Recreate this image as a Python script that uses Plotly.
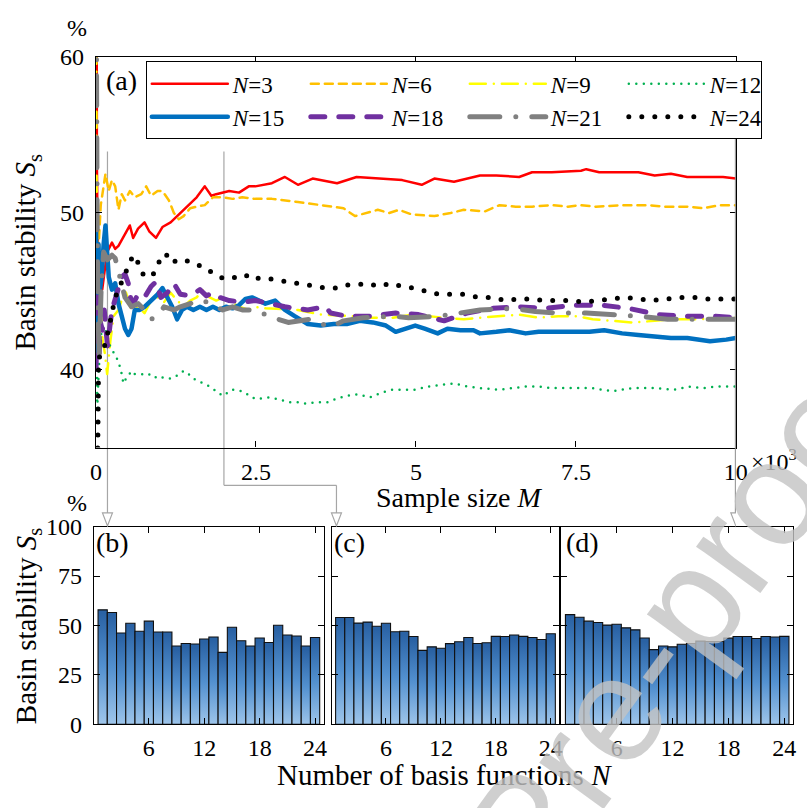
import plotly.graph_objects as go

W, H = 807, 808

# ---- running estimate of basin stability S_s (%) versus sample size M ----
m_n3 = [1, 3, 6, 10, 15, 25, 47, 98, 174, 250, 301, 352, 454, 530, 581, 658, 759, 836,
        938, 1039, 1167, 1268, 1370, 1472, 1574, 1701, 1803, 1879, 1981, 2083, 2236, 2388,
        2490, 2750, 2953, 3157, 3386, 3768, 4073, 4531, 4786, 5091, 5289, 5595, 6002, 6257,
        6613, 6816, 7122, 7580, 7662, 7865, 8476, 8731, 8985, 9240, 9596, 9799, 10000]
s_n3 = [100, 66.7, 61.0, 57.0, 53.0, 49.0, 45.5, 45.1, 47.5, 48.1, 47.7, 47.9, 48.6, 49.2,
        48.4, 49.0, 49.4, 48.8, 48.4, 49.1, 49.4, 49.8, 50.2, 50.6, 51.0, 51.7, 51.1, 51.2,
        51.3, 51.4, 51.3, 51.7, 51.7, 51.9, 52.3, 51.8, 52.2, 51.9, 52.3, 52.2, 52.1, 51.8,
        52.2, 52.0, 52.4, 52.4, 52.3, 52.6, 52.6, 52.7, 52.8, 52.6, 52.6, 52.4, 52.5, 52.3,
        52.3, 52.3, 52.2]

m_n6 = [2, 5, 10, 20, 35, 50, 75, 98, 149, 200, 250, 301, 352, 403, 454, 530, 607, 709,
        785, 861, 963, 1039, 1141, 1218, 1294, 1370, 1472, 1574, 1701, 1828, 1981, 2134,
        2286, 2490, 2750, 3157, 3513, 3869, 4047, 4226, 4404, 4582, 4735, 4938, 5289, 5544,
        5748, 6078, 6307, 6562, 6816, 7122, 7376, 7560, 7814, 8222, 8629, 8883, 9240, 9494,
        9749, 10000]
s_n6 = [50.0, 44.0, 48.0, 42.0, 46.0, 48.5, 50.5, 51.2, 52.5, 51.4, 52.1, 51.7, 50.2, 51.2,
        50.8, 51.4, 51.0, 51.2, 51.7, 51.1, 51.4, 51.4, 50.8, 50.0, 49.6, 49.8, 50.3, 50.4,
        50.5, 51.0, 51.0, 50.9, 51.0, 50.9, 50.9, 50.7, 50.5, 50.3, 49.8, 50.0, 50.2, 50.0,
        50.2, 49.9, 49.8, 50.0, 50.2, 50.1, 50.5, 50.4, 50.4, 50.5, 50.4, 50.5, 50.4, 50.5,
        50.5, 50.4, 50.4, 50.3, 50.5, 50.5]

m_n9 = [2, 5, 10, 20, 35, 60, 100, 140, 175, 225, 276, 352, 454, 556, 658, 759, 861, 963,
        1065, 1167, 1268, 1370, 1472, 1574, 1676, 1777, 1879, 1981, 2083, 2236, 2388, 2490,
        2648, 3157, 3513, 4022, 4226, 4633, 4938, 5442, 5748, 6002, 6358, 6613, 6918, 7224,
        7529, 7763, 8069, 8374, 8731, 8985, 9392, 9749, 10000]
s_n9 = [66.7, 55.0, 52.0, 48.0, 44.0, 46.0, 42.0, 41.0, 39.7, 41.8, 43.4, 43.8, 45.1, 43.8,
        44.0, 43.6, 44.4, 44.6, 44.3, 44.9, 44.4, 44.0, 44.4, 44.6, 45.1, 44.6, 44.4, 44.6,
        44.4, 44.0, 43.8, 44.0, 43.9, 43.8, 43.5, 43.4, 43.3, 43.3, 43.5, 43.3, 43.2, 43.3,
        43.4, 43.5, 43.3, 43.4, 43.4, 43.2, 43.1, 43.0, 43.1, 43.2, 43.2, 43.3, 43.3]

m_n12 = [2, 6, 12, 20, 40, 70, 110, 160, 220, 280, 352, 403, 429, 454, 556, 607, 709, 785,
         861, 963, 1065, 1167, 1268, 1370, 1447, 1523, 1625, 1777, 1981, 2134, 2286, 2490,
         2699, 2851, 3004, 3157, 3284, 3437, 3615, 3742, 3910, 4098, 4277, 4455, 4633, 4836,
         4984, 5188, 5391, 5595, 5798, 6002, 6307, 6511, 6715, 6918, 7122, 7376, 7763, 8069,
         8374, 8731, 9036, 9265, 9494, 9698, 10000]
s_n12 = [50.0, 44.0, 39.0, 37.5, 39.5, 42.0, 42.8, 42.4, 41.5, 41.0, 40.5, 39.7, 39.1, 39.3,
         39.9, 39.7, 39.7, 39.6, 39.7, 39.4, 39.5, 39.4, 39.6, 39.9, 39.7, 39.4, 39.2, 38.9,
         38.3, 38.7, 38.6, 38.1, 38.2, 38.1, 37.9, 37.9, 37.8, 37.9, 37.9, 38.1, 38.3, 38.4,
         38.2, 38.5, 38.7, 38.7, 38.7, 38.9, 39.0, 39.1, 38.9, 38.8, 38.7, 38.8, 38.9, 38.9,
         38.8, 38.8, 38.8, 38.6, 38.8, 38.8, 38.7, 38.9, 38.8, 38.9, 38.9]

m_n15 = [2, 8, 15, 25, 40, 60, 90, 120, 149, 200, 250, 301, 352, 403, 454, 505, 556, 607,
         683, 759, 861, 963, 1039, 1116, 1192, 1268, 1345, 1421, 1523, 1625, 1727, 1828,
         1930, 2032, 2134, 2236, 2337, 2439, 2648, 2800, 2953, 3106, 3309, 3513, 3717, 3920,
         4124, 4327, 4531, 4684, 4836, 4989, 5137, 5340, 5493, 5697, 5900, 6002, 6257, 6460,
         6715, 6918, 7224, 7458, 7713, 7942, 8222, 8476, 8731, 8985, 9240, 9596, 9850, 10000]
s_n15 = [50.0, 41.0, 47.0, 43.0, 48.0, 45.0, 46.0, 48.0, 49.2, 45.9, 45.1, 45.5, 44.2, 43.4,
         42.6, 42.2, 42.6, 43.8, 43.8, 44.0, 44.4, 44.8, 45.2, 44.6, 44.0, 43.2, 43.8, 44.0,
         43.8, 44.0, 43.8, 44.0, 43.8, 44.0, 43.9, 44.1, 44.5, 44.6, 44.2, 44.4, 43.8, 43.4,
         42.9, 42.8, 42.9, 42.9, 43.1, 43.0, 42.8, 42.4, 42.6, 42.8, 42.6, 42.3, 42.6, 42.5,
         42.5, 42.3, 42.4, 42.5, 42.3, 42.4, 42.4, 42.4, 42.4, 42.5, 42.3, 42.2, 42.1, 42.0,
         42.0, 41.8, 41.9, 42.0]

m_n18 = [2, 6, 12, 20, 35, 50, 70, 100, 130, 180, 250, 330, 403, 454, 505, 556, 607, 658,
         759, 861, 938, 1014, 1116, 1218, 1319, 1472, 1625, 1727, 1828, 1930, 2083, 2286,
         2490, 2953, 3309, 3589, 3666, 3920, 4277, 4684, 5040, 5442, 5798, 6206, 6613, 7020,
         7478, 7916, 8323, 8781, 9189, 9647, 10000]
s_n18 = [40.0, 44.0, 41.0, 45.0, 42.0, 41.0, 43.0, 42.5, 43.8, 41.5, 43.8, 44.8, 45.9, 46.1,
         45.5, 44.2, 44.4, 44.8, 44.6, 45.3, 45.6, 44.6, 44.9, 45.5, 44.8, 44.7, 45.1, 44.7,
         44.9, 44.6, 44.4, 44.3, 44.4, 44.0, 43.8, 44.0, 43.6, 43.4, 43.4, 43.6, 43.5, 43.1,
         43.6, 43.9, 44.0, 43.9, 44.1, 44.1, 43.9, 43.5, 43.4, 43.4, 43.3]

m_n21 = [2, 5, 10, 18, 30, 50, 80, 120, 180, 250, 301, 352, 454, 556, 658, 759, 861, 963,
         1065, 1218, 1319, 1472, 1574, 1676, 1777, 1879, 1981, 2134, 2286, 2490, 2699, 3004,
         3335, 3666, 3869, 4175, 4633, 4887, 5366, 6002, 6511, 6867, 7224, 7662, 8120, 8476,
         8934, 9290, 9749, 10000]
s_n21 = [66.7, 57.0, 54.0, 50.0, 44.0, 41.0, 45.0, 47.5, 47.0, 47.3, 47.1, 46.3, 44.6, 44.0,
         44.2, 43.8, 43.2, 43.4, 44.0, 43.8, 44.0, 44.2, 44.4, 44.4, 44.2, 44.0, 43.8, 44.0,
         43.8, 43.8, 43.4, 43.0, 43.2, 42.7, 43.1, 43.3, 43.4, 43.3, 43.4, 43.8, 43.9, 43.7,
         43.6, 43.6, 43.5, 43.4, 43.2, 43.2, 43.2, 43.2]

m_n24 = [5, 15, 25, 32, 40, 60, 123, 200, 250, 301, 454, 530, 581, 632, 709, 785, 887, 963,
         1065, 1141, 1192, 1268, 1396, 1523, 1676, 1879, 2007, 2134, 2261, 2414, 2546, 2699,
         2851, 2994, 3131, 3294, 3437, 3589, 3742, 3910, 4063, 4241, 4429, 4607, 4786, 4974,
         5152, 5350, 5549, 5763, 5982, 6195, 6404, 6603, 6801, 7005, 7208, 7417, 7636, 7845,
         8054, 8257, 8476, 8690, 8914, 9128, 9357, 9575, 9789, 10000]
s_n24 = [25.0, 33.0, 36.0, 38.0, 40.0, 41.0, 41.3, 42.6, 43.8, 44.6, 46.1, 46.9, 47.3, 47.1,
         46.2, 45.9, 46.0, 46.7, 47.4, 47.2, 46.8, 47.0, 47.0, 46.7, 46.6, 46.0, 45.8, 45.9,
         45.8, 46.1, 45.8, 45.8, 45.7, 45.6, 45.5, 45.4, 45.3, 45.2, 45.2, 45.4, 45.4, 45.5,
         45.3, 45.5, 45.3, 45.2, 45.0, 44.8, 44.8, 44.8, 44.6, 44.6, 44.4, 44.5, 44.5, 44.4,
         44.4, 44.4, 44.3, 44.4, 44.5, 44.6, 44.5, 44.4, 44.5, 44.6, 44.6, 44.5, 44.5, 44.5]

# ---- S_s (%) for every number of basis functions N at three sample sizes ----
n_basis = list(range(1, 25))
m_marks = [180, 2000, 10000]
ss_m180 = [57.9, 56.6, 46.2, 51.1, 47.1, 52.2, 46.7, 46.7, 39.6, 40.9, 40.6, 43.2,
           44.2, 36.4, 49.1, 42.3, 39.6, 43.7, 41.4, 50.1, 45.2, 44.7, 39.6, 43.9]
ss_m2000 = [54.0, 54.0, 51.2, 51.7, 49.6, 51.1, 46.8, 47.1, 44.4, 37.4, 39.2, 38.5,
            40.8, 41.8, 43.9, 40.9, 41.3, 44.5, 44.4, 45.2, 44.5, 43.9, 42.9, 45.8]
ss_m10000 = [55.5, 54.2, 52.2, 51.5, 50.2, 50.6, 48.8, 47.8, 43.7, 37.8, 39.6, 39.2,
             40.5, 40.9, 42.1, 41.9, 41.9, 43.6, 44.4, 44.4, 43.4, 44.4, 44.2, 44.5]

SERIF = "Liberation Serif"


def px(x):
    return x / W


def py(y):
    return 1 - y / H


series = [
    ("<i>N</i>=3", m_n3, s_n3, dict(color="#FF0000", width=2.5)),
    ("<i>N</i>=6", m_n6, s_n6, dict(color="#FFC000", width=2.5, dash="8px,6px")),
    ("<i>N</i>=9", m_n9, s_n9, dict(color="#FFFF00", width=2.5, dash="16px,8px,0px,8px")),
    ("<i>N</i>=12", m_n12, s_n12, dict(color="#00B050", width=2.5, dash="0px,7.5px")),
    ("<i>N</i>=15", m_n15, s_n15, dict(color="#0070C0", width=4.5)),
    ("<i>N</i>=18", m_n18, s_n18, dict(color="#7030A0", width=5, dash="14px,14px")),
    ("<i>N</i>=21", m_n21, s_n21, dict(color="#808080", width=5, dash="30px,16px,0px,16px")),
    ("<i>N</i>=24", m_n24, s_n24, dict(color="#000000", width=5, dash="0px,13px")),
]

fig = go.Figure()

for k, (name, m, s, line) in enumerate(series):
    fig.add_trace(go.Scatter(
        x=m, y=s, name=name, mode="lines", line=line, hoverinfo="skip",
        legendwidth=46 if k in (3, 7) else None,
    ))

# bar panels: one filled outline per bar so each bar carries its own gradient
bar_sets = [("x2", "y2", ss_m180), ("x3", "y3", ss_m2000), ("x4", "y4", ss_m10000)]
for xa, ya, vals in bar_sets:
    for n, v in zip(n_basis, vals):
        fig.add_trace(go.Scatter(
            x=[n - 0.5, n - 0.5, n + 0.5, n + 0.5, n - 0.5],
            y=[0, v, v, 0, 0],
            mode="lines", fill="toself",
            fillgradient=dict(type="vertical", start=0, stop=v,
                              colorscale=[[0, "#A8CCEE"], [0.55, "#5290CF"], [1, "#2A62A4"]]),
            line=dict(color="#101010", width=1.1),
            xaxis=xa, yaxis=ya, showlegend=False, hoverinfo="skip",
        ))

tick_font = dict(family=SERIF, size=24, color="black")
frame = dict(showline=True, linecolor="black", linewidth=1.3, mirror="ticks",
             ticks="inside", ticklen=6, tickwidth=1.2, tickcolor="black",
             showgrid=False, zeroline=False, tickfont=tick_font)

main_x = [px(92), px(746.5)]
main_y = [py(449), py(45)]
bar_y = [py(735), py(530.7)]
bar_x = [[px(90), px(325)], [px(333), px(566)], [px(568), px(805)]]

layout = dict(
    width=W, height=H, margin=dict(l=0, r=0, t=0, b=0),
    paper_bgcolor="white", plot_bgcolor="white",
    font=dict(family=SERIF, color="black"),
    xaxis=dict(frame, domain=main_x, range=[0, 10000],
               tickvals=[0, 2500, 5000, 7500, 10000],
               ticktext=["0", "2.5", "5", "7.5", "10"], ticklabelstandoff=2),
    yaxis=dict(frame, domain=main_y, range=[35, 60], tickvals=[40, 50, 60],
               ticklabelstandoff=6),
    legend=dict(orientation="h", x=px(143), y=py(50), xanchor="left", yanchor="top",
                bgcolor="white", bordercolor="black", borderwidth=1,
                font=dict(family=SERIF, size=23, color="black"),
                itemwidth=76, entrywidth=68, entrywidthmode="pixels",
                traceorder="normal", valign="middle"),
    showlegend=True,
)
for i, (xa, ya) in enumerate([("xaxis2", "yaxis2"), ("xaxis3", "yaxis3"), ("xaxis4", "yaxis4")]):
    layout[xa] = dict(frame, domain=bar_x[i], range=[0.06, 24.94], anchor="y%d" % (i + 2),
                      tickvals=[6, 12, 18, 24], ticklabelstandoff=2)
    layout[ya] = dict(frame, domain=bar_y, range=[0, 100], anchor="x%d" % (i + 2),
                      tickvals=[0, 25, 50, 75, 100], showticklabels=(i == 0),
                      ticklabelstandoff=6)
fig.update_layout(**layout)

# connectors from the sampled sizes down to the bar panels
grey = "#A6A6A6"
conn = dict(color=grey, width=1.2)


def head(xref, x, tip_y):
    return dict(type="path", xref=xref, yref="paper", xsizemode="pixel", ysizemode="pixel",
                xanchor=x, yanchor=py(tip_y), path="M-5,13 L5,13 L0,0 Z",
                fillcolor="white", line=conn, layer="above")


x_mid = main_x[0] + m_marks[1] / 10000 * (main_x[1] - main_x[0])
shapes = [
    dict(type="line", xref="x", yref="paper", x0=m_marks[0], x1=m_marks[0],
         y0=py(143), y1=py(517), line=conn, layer="below"),
    head("x", m_marks[0], 530),
    dict(type="line", xref="x", yref="paper", x0=m_marks[1], x1=m_marks[1],
         y0=py(143), y1=py(488), line=conn, layer="below"),
    dict(type="line", xref="paper", yref="paper", x0=x_mid, x1=px(338),
         y0=py(488), y1=py(488), line=conn),
    dict(type="line", xref="paper", yref="paper", x0=px(338), x1=px(338),
         y0=py(488), y1=py(517), line=conn),
    head("paper", px(338), 530),
    dict(type="line", xref="x", yref="paper", x0=m_marks[2], x1=m_marks[2],
         y0=py(127), y1=py(517), line=dict(color="#8C8C8C", width=2), layer="above"),
    head("x", m_marks[2], 530),
]
fig.update_layout(shapes=shapes)


def label(text, x, y, size, **kw):
    opts = dict(xanchor="center", yanchor="middle")
    opts.update(kw)
    fig.add_annotation(text=text, x=px(x), y=py(y), xref="paper", yref="paper",
                       showarrow=False, font=dict(family=SERIF, size=size, color="black"),
                       **opts)


label("%", 73, 15, 24)
label("%", 73, 506, 24)
label("(a)", 118, 70, 28)
label("(b)", 109, 547, 28)
label("(c)", 351, 547, 28)
label("(d)", 590, 547, 28)
label("Basin stability <i>S</i><sub>s</sub>", 22, 247, 29, textangle=-90)
label("Basin stability <i>S</i><sub>s</sub>", 22, 633, 29, textangle=-90)
label("Sample size <i>M</i>", 464, 501, 28)
label("×10<sup>3</sup>", 760, 462, 24, xanchor="left")
label("Number of basis functions <i>N</i>", 448, 787, 29)

# journal watermark running diagonally across the lower right corner
fig.add_annotation(text="Journal Pre-proof", x=px(529), y=py(845), xref="paper", yref="paper",
                   showarrow=False, textangle=-54, xanchor="center", yanchor="middle",
                   font=dict(family="Liberation Sans", size=150, color="rgba(195,195,195,0.8)"))

# dotted/dashed strokes get round caps so dots render as discs
page_js = """
var gd = document.getElementById('{plot_id}');
function roundCaps() {
  gd.querySelectorAll('.subplot.xy .scatterlayer path.js-line, .legend path.js-line').forEach(function (p) {
    p.style.strokeLinecap = 'round';
    p.style.strokeLinejoin = 'round';
  });
}
roundCaps();
if (gd.on) { gd.on('plotly_afterplot', roundCaps); }
"""

fig.write_html("out.html", post_script=page_js)
